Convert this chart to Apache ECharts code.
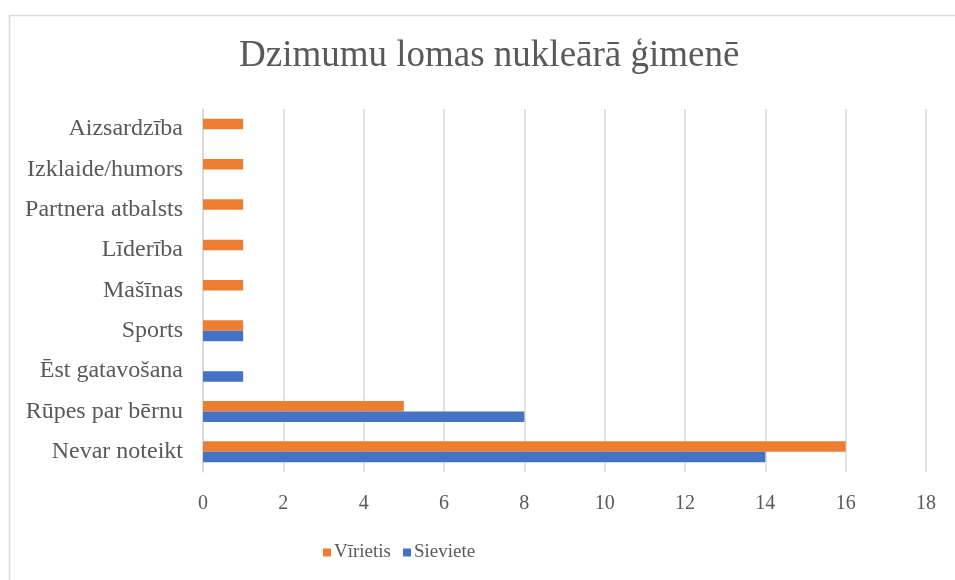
<!DOCTYPE html>
<html lang="lv">
<head>
    <meta charset="UTF-8">
    <title>Dzimumu lomas nukleārā ģimenē</title>
    <script src="https://cdn.jsdelivr.net/npm/echarts@6/dist/echarts.min.js"></script>
    <style>
        html, body { margin: 0; padding: 0; background: #fff; }
        #main { width: 955px; height: 580px; }
    </style>
</head>
<body>
<div id="main"></div>
<script>
    // dati no attēla (no apakšas uz augšu)
    const categories = ['Nevar noteikt', 'Rūpes par bērnu', 'Ēst gatavošana', 'Sports', 'Mašīnas',
        'Līderība', 'Partnera atbalsts', 'Izklaide/humors', 'Aizsardzība'];
    const viriesi = [16, 5, 0, 1, 1, 1, 1, 1, 1];
    const sievietes = [14, 8, 1, 1, 0, 0, 0, 0, 0];
    const xTicks = [0, 18, 2];

    const font = '"Liberation Serif", "Times New Roman", serif';
    const grey = '#595959';

    let chart = echarts.init(document.getElementById('main'), null, {renderer: 'canvas'});
    chart.setOption({
        backgroundColor: '#fff',
        animation: false,
        graphic: [{
            // rāmis ap diagrammu
            type: 'rect',
            left: 7, top: 13,
            shape: {width: 960, height: 580},
            style: {fill: 'none', stroke: '#d9d9d9', lineWidth: 1.5},
            silent: true
        }],
        title: {
            text: 'Dzimumu lomas nukleārā ģimenē',
            left: 234,
            top: 33,
            textStyle: {fontFamily: font, fontSize: 37, fontWeight: 'normal', color: grey}
        },
        legend: {
            data: ['Vīrietis', 'Sieviete'],
            bottom: 13,
            left: 318,
            itemWidth: 8,
            itemHeight: 8,
            itemGap: 12,
            icon: 'rect',
            textStyle: {fontFamily: font, fontSize: 19, color: grey, padding: [0, 0, 0, -2]}
        },
        grid: {left: 203, right: 29, top: 109, bottom: 108, containLabel: false},
        xAxis: {
            type: 'value',
            min: xTicks[0],
            max: xTicks[1],
            interval: xTicks[2],
            axisLine: {show: false},
            axisTick: {show: false},
            splitLine: {lineStyle: {color: '#d9d9d9', width: 1.5}},
            axisLabel: {fontFamily: font, fontSize: 20, color: grey, margin: 22}
        },
        yAxis: {
            type: 'category',
            data: categories,
            axisLine: {show: true, lineStyle: {color: '#d9d9d9', width: 1.5}},
            axisTick: {show: false},
            axisLabel: {fontFamily: font, fontSize: 24, color: grey, margin: 20}
        },
        series: [{
            name: 'Vīrietis',
            type: 'bar',
            data: viriesi,
            barGap: '0%',
            barCategoryGap: '48%',
            itemStyle: {color: '#ed7d31'}
        }, {
            name: 'Sieviete',
            type: 'bar',
            data: sievietes,
            barGap: '0%',
            barCategoryGap: '48%',
            itemStyle: {color: '#4472c4'}
        }]
    });
</script>
</body>
</html>
